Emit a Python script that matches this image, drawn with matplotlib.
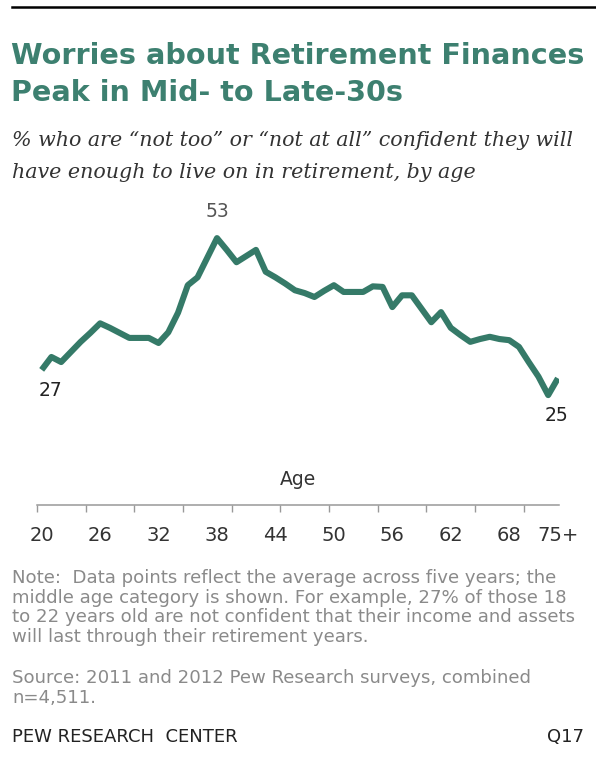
import matplotlib
matplotlib.use("Agg")
import matplotlib.pyplot as plt

# share "not too" / "not at all" confident, by middle age of 5-year band
ages = [str(a) for a in range(20, 73)] + ["75+"]
worried = [29.5, 31.8, 30.9, 32.7, 34.5, 36.1, 37.8, 37.0, 36.1, 35.2,
           35.2, 35.2, 34.3, 36.2, 39.7, 44.6, 46.0, 49.5, 53.0, 50.9,
           48.7, 49.8, 50.9, 47.0, 46.0, 44.9, 43.7, 43.2, 42.5, 43.6,
           44.6, 43.4, 43.4, 43.4, 44.4, 44.3, 40.7, 42.8, 42.8, 40.4,
           38.0, 39.8, 37.0, 35.7, 34.5, 35.0, 35.4, 35.0, 34.8, 33.6,
           30.9, 28.3, 25.0, 28.0]

tick_labels = ["20", "26", "32", "38", "44", "50", "56", "62", "68", "75+"]
callouts = {0: "27", 18: "53", 52: "25"}

note_lines = ["Note:  Data points reflect the average across five years; the",
              "middle age category is shown. For example, 27% of those 18",
              "to 22 years old are not confident that their income and assets",
              "will last through their retirement years.",
              "",
              "Source: 2011 and 2012 Pew Research surveys, combined",
              "n=4,511."]

W, H = 596, 773
GREEN = "#357a68"
TITLE = "#3d8070"
GRAY = "#8a8a8a"


def fy(y):
    return 1 - y / H


fig = plt.figure(figsize=(W / 100, H / 100), dpi=100)

# top rule
fig.add_artist(plt.Line2D([12 / W, 1], [fy(7), fy(7)], color="black", lw=1.8))

fig.text(11 / W, fy(56), "Worries about Retirement Finances", fontsize=20.6,
         fontweight="bold", family="DejaVu Sans", color=TITLE, va="center")
fig.text(11 / W, fy(93), "Peak in Mid- to Late-30s", fontsize=20.6,
         fontweight="bold", family="DejaVu Sans", color=TITLE, va="center")
fig.text(12 / W, fy(140), "% who are \u201cnot too\u201d or \u201cnot at all\u201d confident they will",
         fontsize=14.9, style="italic", family="DejaVu Serif", color="#333333", va="center")
fig.text(12 / W, fy(172), "have enough to live on in retirement, by age",
         fontsize=14.9, style="italic", family="DejaVu Serif", color="#333333", va="center")

ax = fig.add_axes([36.8 / W, fy(505), 522.1 / W, 305 / H])
x = list(range(len(worried)))
ax.plot(x, worried, color=GREEN, lw=4.4, solid_joinstyle="round", solid_capstyle="butt")
ax.set_xlim(-0.5, 53.1)
ax.set_ylim(5.4, 59.8)

for i, txt in callouts.items():
    dy = 19 if i == 18 else -14.5
    dx = 0 if i == 18 else 6
    ax.annotate(txt, (x[i], worried[i]), xytext=(dx, dy), textcoords="offset points",
                ha="center", va="center", fontsize=13.5,
                color="#555555" if i == 18 else "#222222")

for s in ["top", "right", "left"]:
    ax.spines[s].set_visible(False)
ax.spines["bottom"].set_color("#999999")
ax.spines["bottom"].set_linewidth(1.1)
ax.set_yticks([])

label_pos = [ages.index(t) for t in tick_labels]
ax.set_xticks(label_pos)
ax.set_xticklabels(tick_labels, fontsize=14, color="#333333")
ax.set_xticks([-0.5 + 5 * k for k in range(11)], minor=True)
ax.tick_params(axis="x", which="major", length=0, pad=15)
ax.tick_params(axis="x", which="minor", length=5, width=1, color="#999999")

fig.text(298 / W, fy(480), "Age", fontsize=13.5, ha="center", va="center", color="#333333")

line_y = [578, 598, 617, 637, 657, 678, 698]
for txt, yy in zip(note_lines, line_y):
    fig.text(12 / W, fy(yy), txt, fontsize=13.1, color=GRAY, va="center")
fig.text(12 / W, fy(737), "PEW RESEARCH  CENTER", fontsize=13, color="#222222", va="center")
fig.text(584 / W, fy(737), "Q17", fontsize=13, color="#222222", va="center", ha="right")

fig.savefig("out.png", dpi=100)
